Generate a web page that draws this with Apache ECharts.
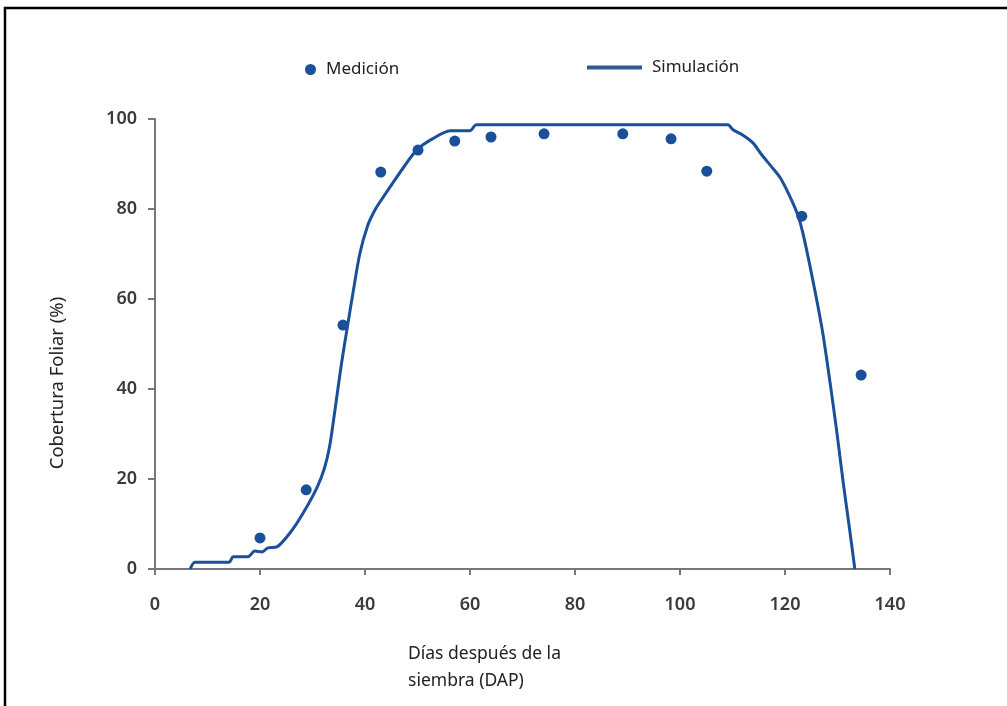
<!DOCTYPE html>
<html>
<head>
<meta charset="utf-8">
<script src="https://cdn.jsdelivr.net/npm/echarts@6/dist/echarts.min.js"></script>
<style>
  html, body { margin: 0; padding: 0; background: #fff; }
</style>
</head>
<body>
<div id="main" style="width:1007px;height:706px;"></div>
<script type="text/javascript">
    // datos
    var medX = [20.0, 28.8, 35.8, 43.0, 50.1, 57.1, 64.0, 74.1, 89.1, 98.3, 105.1, 123.2, 134.5];
    var medY = [6.9, 17.6, 54.2, 88.2, 93.1, 95.1, 96.0, 96.7, 96.7, 95.6, 88.4, 78.4, 43.1];

    var simX = [6.7, 7.6, 14.1, 14.9, 17.7, 19.0, 20.4, 21.5, 23.2, 25.7, 28.2, 30.9, 32.3, 33.3,
                34.3, 35.5, 36.6, 37.8, 39.0, 40.5, 42.0, 43.5, 45.3, 47.5, 49.9, 53.0, 56.2,
                60.0, 61.2, 109.1, 110.1, 112.0, 113.9, 115.6, 117.5, 119.0, 120.6, 122.3,
                123.4, 125.4, 127.2, 128.6, 129.9, 131.1, 132.4, 133.3];
    var simY = [0, 1.5, 1.5, 2.7, 2.7, 4.0, 3.8, 4.7, 4.9, 8.0, 12.4, 18.2, 22.5, 27.5,
                35.5, 45.5, 53.5, 62.0, 70.0, 76.3, 80.0, 82.7, 85.8, 89.5, 93.2, 95.7, 97.4,
                97.4, 98.7, 98.7, 97.6, 96.4, 94.7, 92.0, 89.3, 87.1, 83.6, 79.1,
                74.7, 63.6, 52.4, 41.3, 30.2, 19.1, 8.0, 0];

    var xTicks = [0, 20, 40, 60, 80, 100, 120, 140];
    var yTicks = [0, 20, 40, 60, 80, 100];

    var azul = '#1a4f99';
    var gris = '#777777';
    var fuente = 'Noto Sans';

    var medData = medX.map(function (x, i) { return [x, medY[i]]; });
    var simData = simX.map(function (x, i) { return [x, simY[i]]; });

    var myChart = echarts.init(document.getElementById('main'));
    var option = {
        animation: false,
        backgroundColor: '#fff',
        grid: { left: 155, right: 117, top: 119, bottom: 137 },
        legend: [
            {
                data: ['Medición'],
                left: 300, top: 56,
                icon: 'circle', itemWidth: 11, itemHeight: 11,
                textStyle: { fontFamily: fuente, fontSize: 17, color: '#222', padding: [0, 0, 0, 5] }
            },
            {
                data: ['Simulación'],
                left: 582, top: 54,
                icon: 'rect', itemWidth: 55, itemHeight: 4,
                itemStyle: { color: '#2f5a93' },
                textStyle: { fontFamily: fuente, fontSize: 17, color: '#222', padding: [0, 0, 0, 5] }
            }
        ],
        xAxis: {
            type: 'value',
            min: xTicks[0], max: xTicks[xTicks.length - 1], interval: 20,
            splitLine: { show: false },
            axisLine: { onZero: false, lineStyle: { color: gris, width: 2 } },
            axisTick: { show: true, length: 6, lineStyle: { color: gris, width: 2 } },
            axisLabel: { margin: 27, fontFamily: fuente, fontSize: 18, fontWeight: 600, color: '#3a3a3a' }
        },
        yAxis: {
            type: 'value',
            min: yTicks[0], max: yTicks[yTicks.length - 1], interval: 20,
            splitLine: { show: false },
            axisLine: { show: true, onZero: false, lineStyle: { color: gris, width: 2 } },
            axisTick: { show: true, length: 7, lineStyle: { color: gris, width: 2 } },
            axisLabel: { margin: 18, fontFamily: fuente, fontSize: 18, fontWeight: 600, color: '#3a3a3a' }
        },
        graphic: [
            {
                type: 'polyline',
                shape: { points: [[5, 706], [5, 8], [1007, 8]] },
                style: { stroke: '#000', lineWidth: 2.5, fill: null }
            },
            {
                type: 'text',
                x: 58, y: 383, rotation: Math.PI / 2,
                style: {
                    text: 'Cobertura Foliar (%)',
                    fontFamily: fuente, fontSize: 18.5, fill: '#222',
                    align: 'center', verticalAlign: 'middle'
                }
            },
            {
                type: 'text',
                x: 408, y: 641,
                style: {
                    text: 'Días después de la\nsiembra (DAP)',
                    fontFamily: fuente, fontSize: 17.5, fill: '#222',
                    lineHeight: 27, align: 'left', verticalAlign: 'top'
                }
            }
        ],
        series: [
            {
                name: 'Medición',
                type: 'scatter',
                data: medData,
                symbol: 'circle',
                symbolSize: 11,
                itemStyle: { color: azul, opacity: 1 },
                z: 3
            },
            {
                name: 'Simulación',
                type: 'line',
                data: simData,
                showSymbol: false,
                symbol: 'none',
                smooth: 0.25,
                lineStyle: { color: azul, width: 3 },
                itemStyle: { color: azul },
                z: 2
            }
        ]
    };
    myChart.setOption(option);
</script>
</body>
</html>
